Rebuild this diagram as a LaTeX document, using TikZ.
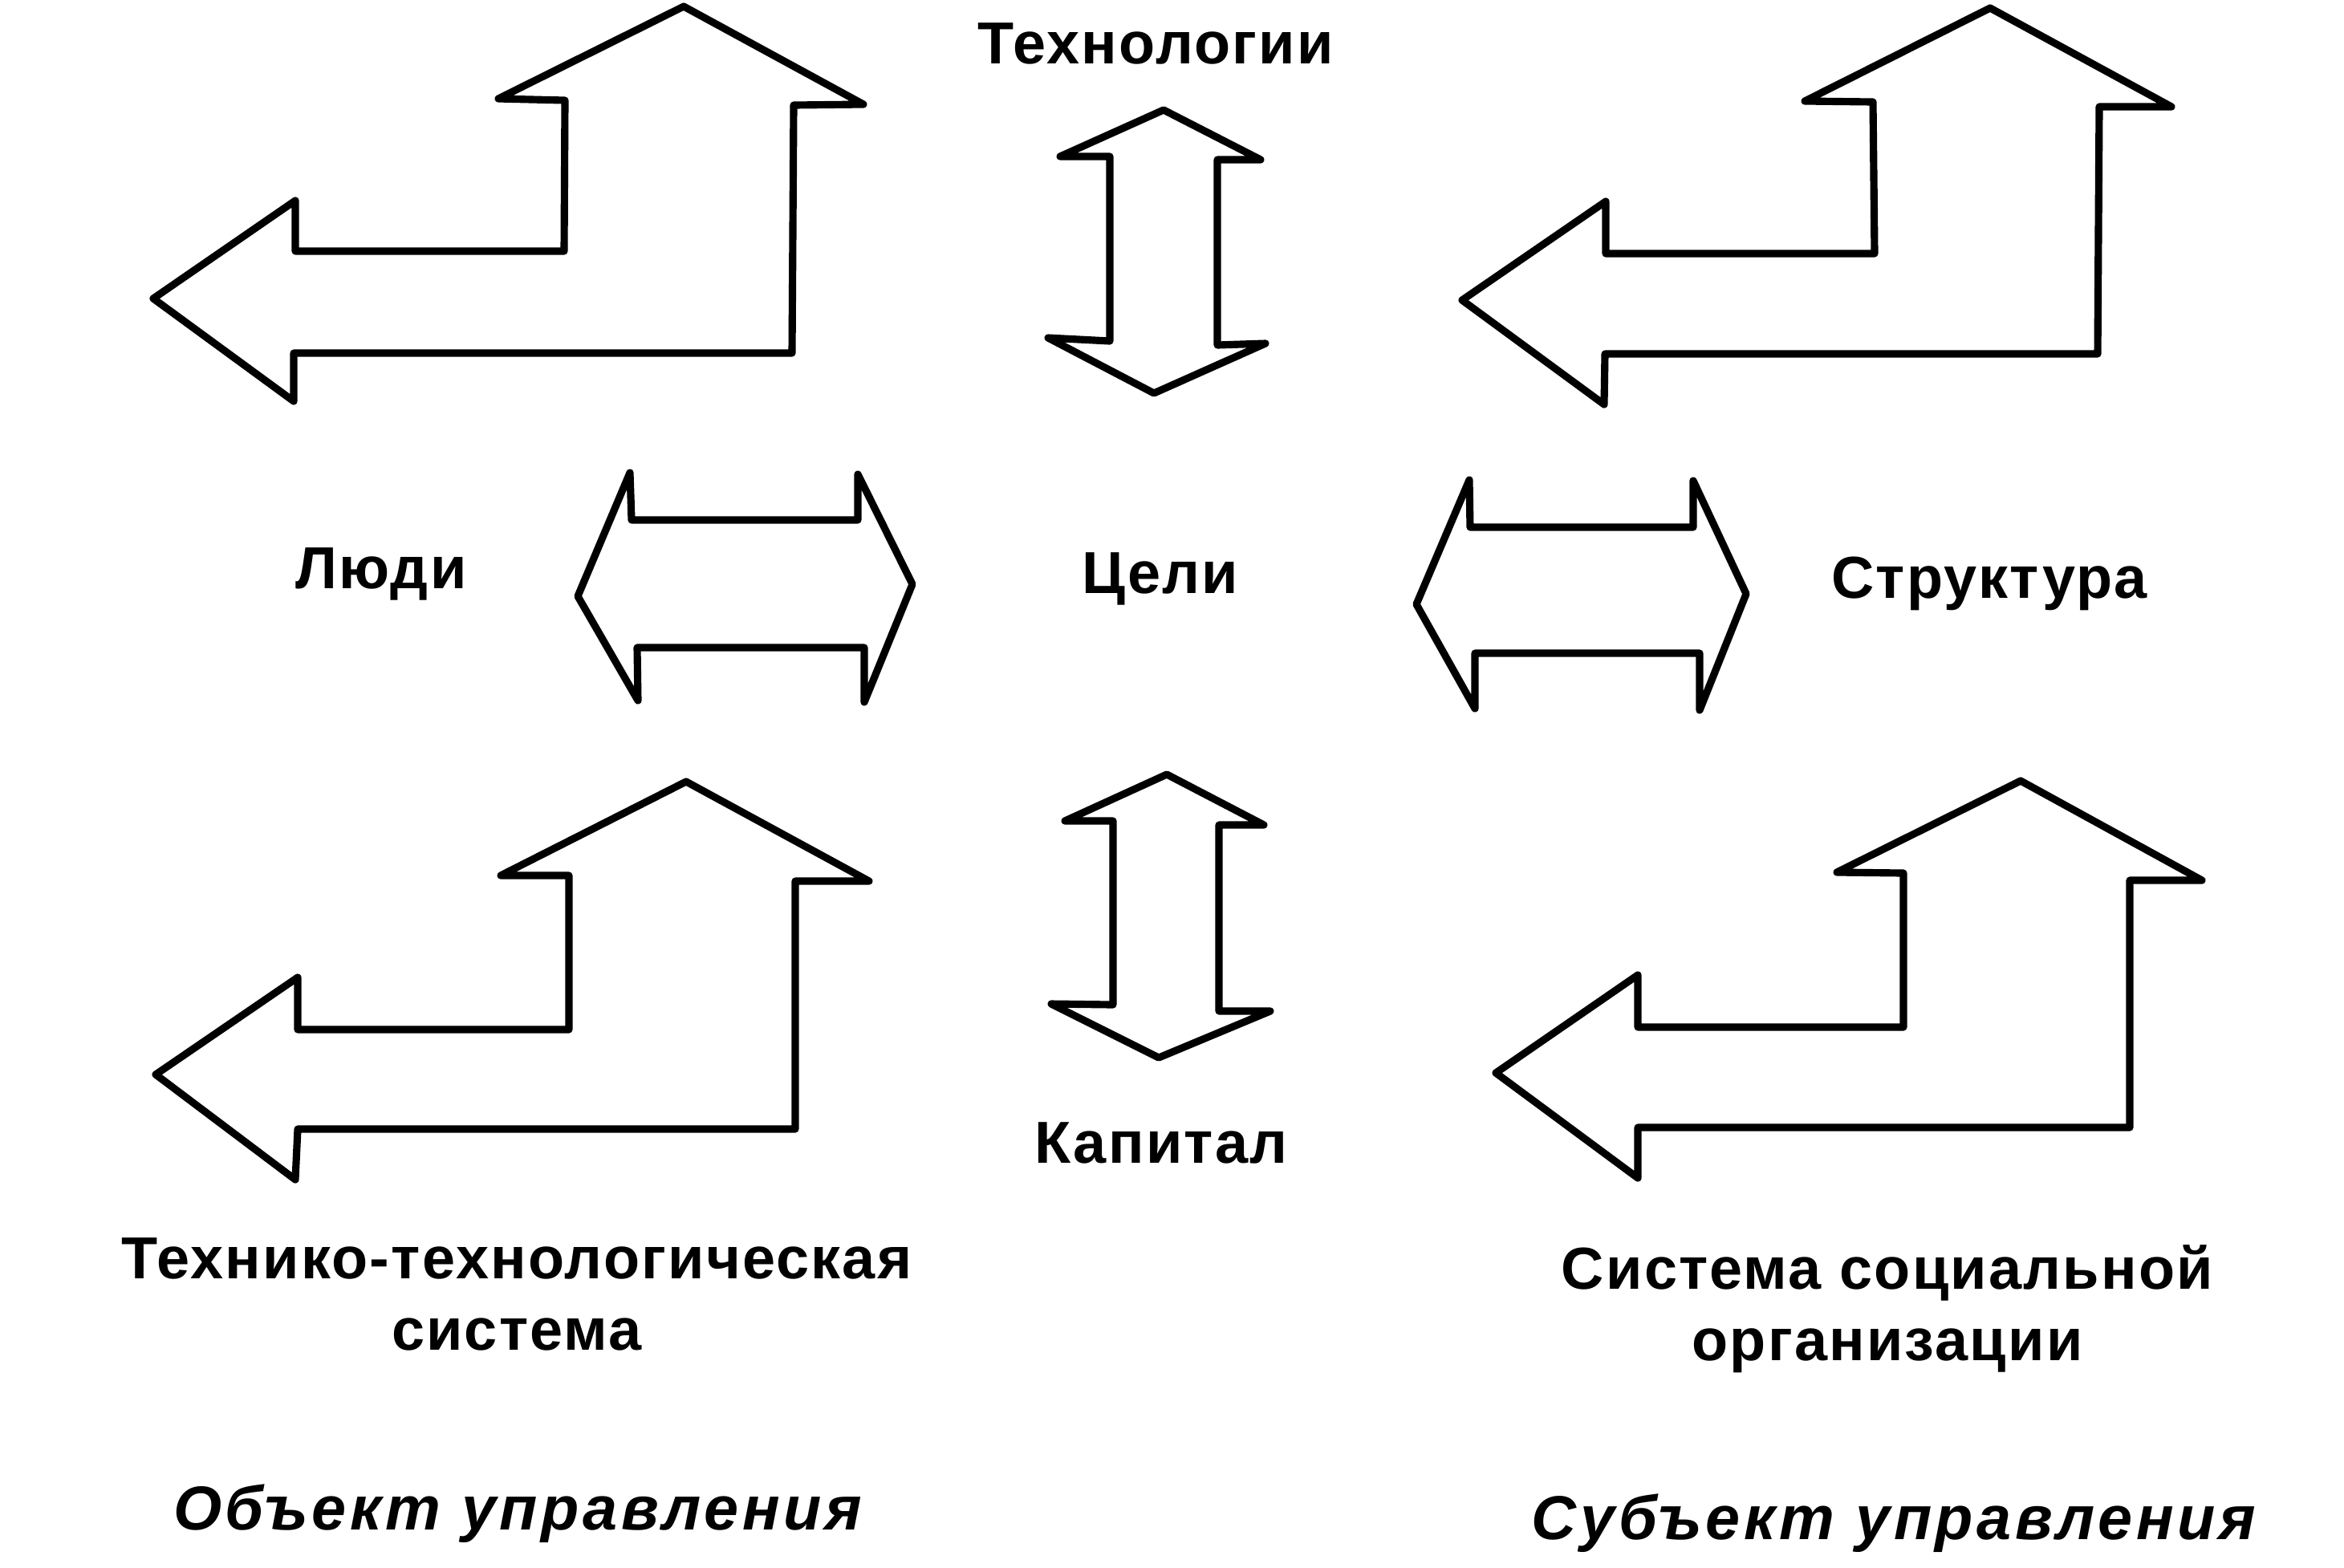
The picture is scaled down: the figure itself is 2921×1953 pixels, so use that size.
\documentclass[tikz,border=0pt]{standalone}
\usepackage{fontspec}
\setmainfont{Liberation Sans}
\usepackage{tikz}

\begin{document}
\begin{tikzpicture}[x=0.01cm,y=-0.01cm,
	arr/.style={draw=black,line width=2.6pt,line join=round,fill=white},
	lbl/.style={font=\fontsize{21}{25.3}\selectfont\bfseries\addfontfeatures{LetterSpace=3},anchor=base,inner sep=0pt,align=center},
	captext/.style={font=\fontsize{22}{26}\selectfont\bfseries\itshape\addfontfeatures{LetterSpace=6},anchor=base,inner sep=0pt}]
	\useasboundingbox (0,0) rectangle (2921,1953);
	\draw[arr] (852,8) -- (1076,130) -- (989,131) -- (987,440) -- (366,440) -- (366,500) -- (191,372) -- (368,250) -- (368,313) -- (703,313) -- (704,125) -- (621,123) -- cycle;
	\draw[arr] (2480,10) -- (2706,133) -- (2616,133) -- (2614,441) -- (2000,441) -- (1999,504) -- (1822,374) -- (2001,251) -- (2001,316) -- (2336,316) -- (2334,127) -- (2249,126) -- cycle;
	\draw[arr] (855,974) -- (1083,1098) -- (991,1098) -- (991,1407) -- (371,1407) -- (368,1470) -- (194,1339) -- (371,1218) -- (371,1283) -- (709,1283) -- (709,1091) -- (624,1091) -- cycle;
	\draw[arr] (2518,973) -- (2744,1097) -- (2654,1097) -- (2654,1405) -- (2041,1405) -- (2041,1468) -- (1864,1337) -- (2041,1215) -- (2041,1280) -- (2372,1280) -- (2372,1088) -- (2289,1087) -- cycle;
	\draw[arr] (1450,137) -- (1571,199) -- (1517,199) -- (1517,430) -- (1577,428) -- (1438,490) -- (1306,421) -- (1383,425) -- (1383,195) -- (1321,195) -- cycle;
	\draw[arr] (1454,965) -- (1575,1028) -- (1519,1028) -- (1519,1260) -- (1583,1260) -- (1444,1318) -- (1310,1251) -- (1387,1252) -- (1387,1023) -- (1327,1023) -- cycle;
	\draw[arr] (720,743) -- (785,589) -- (787,648) -- (1069,648) -- (1069,591) -- (1137,728) -- (1077,875) -- (1077,807) -- (794,807) -- (795,873) -- cycle;
	\draw[arr] (1765,753) -- (1831,598) -- (1832,657) -- (2110,657) -- (2110,599) -- (2176,740) -- (2118,885) -- (2118,814) -- (1838,814) -- (1838,883) -- cycle;
	\node[lbl] (tech) at (1440,79) {Технологии};
	\node[lbl] (people) at (475,733) {Люди};
	\node[lbl] (goals) at (1446,739) {Цели};
	\node[lbl] (structure) at (2479,745) {Структура};
	\node[lbl] (capital) at (1447,1449) {Капитал};
	\node[lbl] (techsys) at (644,1682) {Технико-технологическая\\система};
	\node[lbl] (socsys) at (2352,1695) {Система социальной\\организации};
	\node[captext] (object) at (645,1906) {Объект управления};
	\node[captext] (subject) at (2360,1918) {Субъект управления};
\end{tikzpicture}
\end{document}
